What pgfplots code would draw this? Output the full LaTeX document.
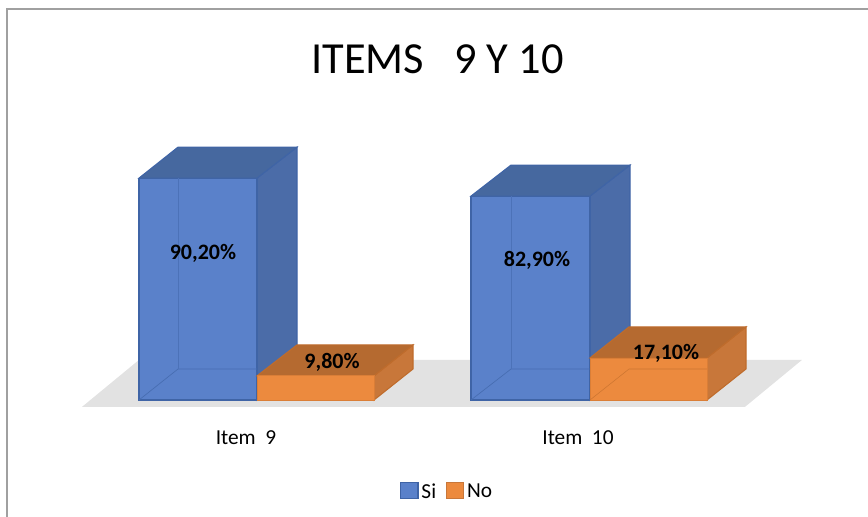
\documentclass[border=0pt]{standalone}
\usepackage{pgfplots}
\pgfplotsset{compat=1.18}
\usepackage{fontspec}
\setmainfont{Carlito}
\definecolor{bfront}{HTML}{5A81CA}
\definecolor{bside}{HTML}{4B6CA8}
\definecolor{btop}{HTML}{46689F}
\definecolor{bedge}{HTML}{3F64A6}
\definecolor{ofront}{HTML}{EC8A3E}
\definecolor{oside}{HTML}{C8773A}
\definecolor{otop}{HTML}{B56A30}
\definecolor{oedge}{HTML}{BF6C2C}
\definecolor{floorc}{HTML}{E2E2E2}
\definecolor{framec}{HTML}{A0A0A0}
\begin{document}
\begin{tikzpicture}
\begin{axis}[
  scale only axis, width=651pt, height=387.75pt,
  xmin=0, xmax=868, ymin=-47.56, ymax=162.6,
  axis line style={draw=none}, tick style={draw=none},
  ytick=\empty, xtick={246,578},
  xticklabels={Item\ \ 9,Item\ \ 10},
  xticklabel style={yshift=68pt, font=\fontsize{16}{19}\selectfont},
  title={ITEMS\ \ \ 9 Y 10},
  title style={at={(0.504,0.869)}, anchor=center, font=\fontsize{33.3}{40}\selectfont},
  legend style={at={(0.5155,0.049)}, anchor=center, draw=none, fill=none, legend columns=2,
    font=\fontsize{16}{19}\selectfont, /tikz/every even column/.append style={column sep=5.2pt}},
  nodes near coords style={anchor=center, font=\fontsize{16.5}{20}\selectfont\bfseries, text=black},
]
% frame
\addplot[forget plot, draw=framec, line width=1.8pt] coordinates {(7,-47.56)(7,158.9)(868,158.9)};
% floor
\addplot[forget plot, draw=none, fill=floorc] coordinates {(82,-2.8)(745,-2.8)(802,16.3)(139,16.3)} --cycle;

% --- Item 9, Si
\addplot[forget plot, draw=bedge, fill=bside, line width=.8pt] coordinates {(257,0)(297,12.6)(297,102.8)(257,90.2)} --cycle;
\addplot[forget plot, draw=bedge, fill=btop, line width=.8pt] coordinates {(139,90.2)(257,90.2)(297,102.8)(178,102.8)} --cycle;
\addplot[forget plot, ybar, bar width=118, bar shift=0pt, draw=bedge, fill=bfront, line width=.8pt] coordinates {(198,90.2)};
\addplot[forget plot, draw=bedge!70!bfront, line width=.5pt] coordinates {(139,0)(178,12.6)(257,12.6)};
\addplot[forget plot, draw=bedge!50!bfront, line width=.5pt] coordinates {(178,12.6)(178,90.2)};

% --- Item 9, No
\addplot[forget plot, draw=oedge, fill=oside, line width=.8pt] coordinates {(374,0)(413,12.6)(413,22.4)(374,9.8)} --cycle;
\addplot[forget plot, draw=oedge, fill=otop, line width=.8pt] coordinates {(257,9.8)(374,9.8)(413,22.4)(297,22.4)} --cycle;
\addplot[forget plot, ybar, bar width=117, bar shift=0pt, draw=oedge!40!ofront, fill=ofront, line width=.6pt] coordinates {(315.5,9.8)};

% --- Item 10, Si
\addplot[forget plot, draw=bedge, fill=bside, line width=.8pt] coordinates {(590,0)(630,12.6)(630,95.5)(590,82.9)} --cycle;
\addplot[forget plot, draw=bedge, fill=btop, line width=.8pt] coordinates {(471,82.9)(590,82.9)(630,95.5)(511,95.5)} --cycle;
\addplot[forget plot, ybar, bar width=119, bar shift=0pt, draw=bedge, fill=bfront, line width=.8pt] coordinates {(530.5,82.9)};
\addplot[forget plot, draw=bedge!70!bfront, line width=.5pt] coordinates {(471,0)(511,12.6)(590,12.6)};
\addplot[forget plot, draw=bedge!50!bfront, line width=.5pt] coordinates {(511,12.6)(511,82.9)};

% --- Item 10, No
\addplot[forget plot, draw=oedge, fill=oside, line width=.8pt] coordinates {(707,0)(746,12.6)(746,29.7)(707,17.1)} --cycle;
\addplot[forget plot, draw=oedge, fill=otop, line width=.8pt] coordinates {(590,17.1)(707,17.1)(746,29.7)(629,29.7)} --cycle;
\addplot[forget plot, ybar, bar width=117, bar shift=0pt, draw=oedge!40!ofront, fill=ofront, line width=.6pt] coordinates {(648.5,17.1)};
\addplot[forget plot, draw=oedge!70!ofront, line width=.4pt] coordinates {(590,0)(629,12.6)(707,12.6)};

% data labels
\addplot[forget plot, draw=none, mark=none, nodes near coords, point meta=explicit symbolic]
  coordinates {(203,59.6)[90,20\%] (332,15.2)[9,80\%] (537,56.9)[82,90\%] (666,19)[17,10\%]};

% legend
\addlegendimage{legend image code/.code={\draw[draw=bedge, fill=bfront, line width=1pt] (0pt,-5pt) rectangle (13pt,7pt);}}
\addlegendentry{Si}
\addlegendimage{legend image code/.code={\draw[draw=oside, fill=ofront, line width=1pt] (0pt,-5pt) rectangle (13pt,7pt);}}
\addlegendentry{No}
\end{axis}
\end{tikzpicture}
\end{document}
